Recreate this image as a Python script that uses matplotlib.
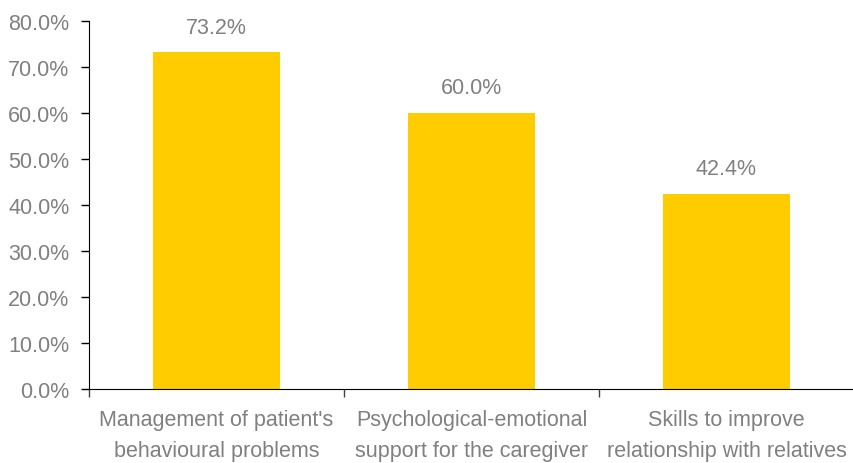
import matplotlib.pyplot as plt
from matplotlib.ticker import FuncFormatter

categories = ["Management of patient's\nbehavioural problems",
              "Psychological-emotional\nsupport for the caregiver",
              "Skills to improve\nrelationship with relatives"]
values = [73.2, 60.0, 42.4]

plt.rcParams['font.family'] = ['Liberation Sans', 'DejaVu Sans']
grey = '#808080'

fig = plt.figure(figsize=(8.54, 4.64), dpi=100)
ax = fig.add_axes([89 / 854, 74 / 464, 765 / 854, 368 / 464])

x = range(len(values))
bars = ax.bar(x, values, width=0.5, color='#FFCC00')
for b, v in zip(bars, values):
    ax.annotate(f"{v:.1f}%", (b.get_x() + b.get_width() / 2, v),
                xytext=(0, 18), textcoords='offset points',
                ha='center', va='center', fontsize=15.5, color=grey)

ax.set_xlim(-0.5, 2.5)
ax.set_ylim(0, 80)
ax.set_yticks(range(0, 81, 10))
ax.yaxis.set_major_formatter(FuncFormatter(lambda v, p: f"{v:.1f}%"))

ax.set_xticks([-0.5, 0.5, 1.5, 2.5])
ax.set_xticklabels([])
ax.set_xticks(list(x), minor=True)
ax.set_xticklabels(categories, minor=True, fontsize=15.5, color=grey, linespacing=1.6)
ax.tick_params(axis='x', which='minor', length=0, pad=14.5)
ax.tick_params(axis='x', which='major', length=6, width=1, color='#404040')
ax.tick_params(axis='y', length=6, width=1, labelsize=15.5, labelcolor=grey, pad=8)

for s in ['top', 'right']:
    ax.spines[s].set_visible(False)
ax.spines['left'].set_color('black')
ax.spines['bottom'].set_color('black')

fig.savefig('out.png', dpi=100)
